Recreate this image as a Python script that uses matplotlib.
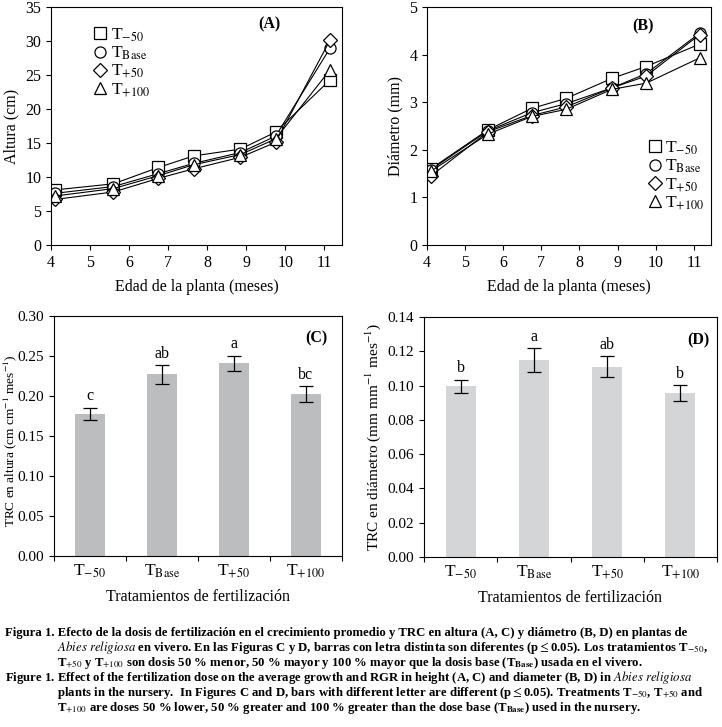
import numpy as np
import matplotlib.pyplot as plt
from matplotlib.lines import Line2D

plt.rcParams['font.family'] = ['Liberation Serif', 'DejaVu Serif']
plt.rcParams['mathtext.fontset'] = 'stix'

# data for panels A and B
edad = [4.1, 5.6, 6.75, 7.65, 8.85, 9.75, 11.15]
altura = {
    'T-50': [8.1, 9.0, 11.4, 13.1, 14.1, 16.6, 24.3],
    'TBase': [7.6, 8.6, 10.5, 12.0, 13.6, 16.0, 29.0],
    'T+50': [6.7, 7.8, 9.8, 11.2, 12.9, 15.1, 30.2],
    'T+100': [7.2, 8.3, 10.2, 11.8, 13.3, 15.6, 25.8],
}
diametro = {
    'T-50': [1.6, 2.42, 2.87, 3.08, 3.5, 3.75, 4.22],
    'TBase': [1.58, 2.4, 2.78, 2.97, 3.3, 3.6, 4.45],
    'T+50': [1.45, 2.38, 2.72, 2.9, 3.3, 3.55, 4.42],
    'T+100': [1.55, 2.33, 2.7, 2.85, 3.27, 3.4, 3.93],
}

# data for panels C and D
tratamientos = [r'T$_{-50}$', r'T$_{\mathrm{Base}}$', r'T$_{+50}$', r'T$_{+100}$']
trc_altura = [0.178, 0.227, 0.241, 0.202]
err_altura = [0.0075, 0.012, 0.0095, 0.010]
letras_altura = ['c', 'ab', 'a', 'bc']
trc_diam = [0.0995, 0.115, 0.111, 0.0955]
err_diam = [0.004, 0.007, 0.006, 0.0047]
letras_diam = ['b', 'a', 'ab', 'b']

marcadores = {'T-50': 's', 'TBase': 'o', 'T+50': 'D', 'T+100': '^'}
etiquetas = {'T-50': r'T$_{-50}$', 'TBase': r'T$_{\mathrm{Base}}$',
             'T+50': r'T$_{+50}$', 'T+100': r'T$_{+100}$'}
tamanos = {'T-50': 8, 'TBase': 8, 'T+50': 7, 'T+100': 9}

W, H = 722, 727
fig = plt.figure(figsize=(W / 100, H / 100), dpi=100)

def rect(l, t, r, b):
    return [l / W, 1 - b / H, (r - l) / W, (b - t) / H]

axA = fig.add_axes(rect(51, 7, 342, 245))
axB = fig.add_axes(rect(427, 7, 711, 245))
axC = fig.add_axes(rect(54, 316, 342, 556))
axD = fig.add_axes(rect(424, 317, 717, 557))

for ax in (axA, axB, axC, axD):
    ax.tick_params(direction='out', top=False, right=False, labelsize=11.5, width=0.8)
    for s in ax.spines.values():
        s.set_linewidth(0.8)

# Panels A and B
leyendas = {}
for ax, datos in ((axA, altura), (axB, diametro)):
    handles = []
    for k in datos:
        ax.plot(edad, datos[k], color='black', linewidth=0.8, marker=marcadores[k],
                markersize=tamanos[k], markerfacecolor='white', markeredgecolor='black',
                markeredgewidth=0.9)
        handles.append(Line2D([], [], linestyle='none', marker=marcadores[k],
                              markersize=tamanos[k], markerfacecolor='white',
                              markeredgecolor='black', markeredgewidth=0.9,
                              label=etiquetas[k]))
    ax.set_xlim(4, 11.45)
    ax.set_xticks(range(4, 12))
    ax.set_xlabel('Edad de la planta (meses)', fontsize=11.5, labelpad=6)
    leyendas[ax] = handles

axA.set_ylim(0, 35)
axA.set_yticks(range(0, 36, 5))
axA.set_ylabel('Altura (cm)', fontsize=11.5, labelpad=4)
axA.text(0.75, 0.91, '(A)', transform=axA.transAxes, fontsize=11.5, fontweight='bold', ha='center')
axA.legend(handles=leyendas[axA], loc='upper left', bbox_to_anchor=(0.11, 0.955),
           frameon=False, fontsize=12.5, handletextpad=0.1, labelspacing=0.05,
           handlelength=1.0, borderpad=0)

axB.set_ylim(0, 5)
axB.set_yticks(range(0, 6))
axB.set_ylabel('Diámetro (mm)', fontsize=11.5, labelpad=4)
axB.text(0.76, 0.9, '(B)', transform=axB.transAxes, fontsize=11.5, fontweight='bold', ha='center')
axB.legend(handles=leyendas[axB], loc='upper left', bbox_to_anchor=(0.74, 0.48),
           frameon=False, fontsize=12.5, handletextpad=0.1, labelspacing=0.05,
           handlelength=1.0, borderpad=0)

# Panels C and D
x = np.arange(len(tratamientos))
for ax, vals, errs, letras, color, gap in ((axC, trc_altura, err_altura, letras_altura, '#bcbdbf', 0.004),
                                           (axD, trc_diam, err_diam, letras_diam, '#d4d5d6', 0.0019)):
    ax.bar(x, vals, width=0.41, color=color)
    ax.errorbar(x, vals, yerr=errs, fmt='none', ecolor='black', elinewidth=0.9,
                capsize=5, capthick=0.9)
    for xi, v, e, l in zip(x, vals, errs, letras):
        ax.text(xi, v + e + gap, l, ha='center', va='bottom', fontsize=11.5)
    ax.set_xlim(-0.5, 3.5)
    ax.set_xticks([-0.5, 0.5, 1.5, 2.5, 3.5])
    ax.set_xticklabels([])
    ax.set_xticks(x, minor=True)
    ax.set_xticklabels(tratamientos, minor=True, fontsize=12.5)
    ax.tick_params(axis='x', which='minor', length=0, pad=5)
    ax.tick_params(axis='y', labelsize=11)
    ax.set_xlabel('Tratamientos de fertilización', fontsize=11.5, labelpad=6)
    ax.yaxis.set_major_formatter(plt.FormatStrFormatter('%.2f'))

axC.set_ylim(0, 0.30)
axC.set_yticks(np.arange(0, 0.31, 0.05))
axC.set_ylabel(r'TRC en altura (cm cm$^{-1}$ mes$^{-1}$)', fontsize=9.5)
axC.yaxis.set_label_coords(-0.12, 0.48)
axC.text(0.91, 0.89, '(C)', transform=axC.transAxes, fontsize=11.5, fontweight='bold', ha='center')

axD.set_ylim(0, 0.14)
axD.set_yticks(np.arange(0, 0.141, 0.02))
axD.set_ylabel(r'TRC en diámetro (mm mm$^{-1}$ mes$^{-1}$)', fontsize=11, labelpad=3)
axD.text(0.935, 0.885, '(D)', transform=axD.transAxes, fontsize=11.5, fontweight='bold', ha='center')

# caption
cap = dict(fontsize=9.2, fontweight='bold', va='center', ha='left')
fig.text(5 / W, 1 - 633 / H,
         'Figura 1. Efecto de la dosis de fertilización en el crecimiento promedio y TRC en altura (A, C) y diámetro (B, D) en plantas de', **cap)
fig.text(57 / W, 1 - 648 / H,
         r'$\mathit{Abies\ religiosa}$ en vivero. En las Figuras C y D, barras con letra distinta son diferentes (p$\leq$0.05). Los tratamientos T$_{-50}$,', **cap)
fig.text(57 / W, 1 - 663 / H,
         r'T$_{+50}$ y T$_{+100}$ son dosis 50 % menor, 50 % mayor y 100 % mayor que la dosis base (T$_{\mathbf{Base}}$) usada en el vivero.', **cap)
fig.text(5 / W, 1 - 678 / H,
         r'Figure 1. Effect of the fertilization dose on the average growth and RGR in height (A, C) and diameter (B, D) in $\mathit{Abies\ religiosa}$', **cap)
fig.text(57 / W, 1 - 693 / H,
         r'plants in the nursery.  In Figures C and D, bars with different letter are different (p$\leq$0.05). Treatments T$_{-50}$, T$_{+50}$ and', **cap)
fig.text(57 / W, 1 - 708 / H,
         r'T$_{+100}$ are doses 50 % lower, 50 % greater and 100 % greater than the dose base (T$_{\mathbf{Base}}$) used in the nursery.', **cap)

fig.savefig('out.png', dpi=100)
